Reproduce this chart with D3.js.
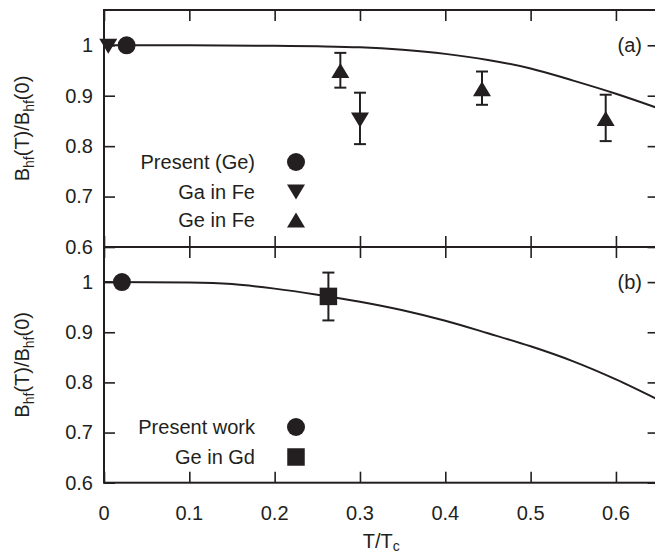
<!DOCTYPE html>
<html>
<head>
<meta charset="utf-8">
<script src="https://cdn.jsdelivr.net/npm/d3@7"></script>
<style>
  html, body { margin: 0; padding: 0; background: #fff; }
  svg { display: block; }
  text { font-family: "Liberation Sans", Arial, Helvetica, sans-serif; fill: #231f20; }
</style>
</head>
<body>
<svg id="chart" width="655" height="555"></svg>
<script>
// ---------- data ----------
const xTicks = [0, 0.1, 0.2, 0.3, 0.4, 0.5, 0.6];
const xTickLabels = ["0", "0.1", "0.2", "0.3", "0.4", "0.5", "0.6"];
const yTicks = [0.6, 0.7, 0.8, 0.9, 1.0];
const yTickLabels = ["0.6", "0.7", "0.8", "0.9", "1"];

// panel (a)
const presentGe = [{x: 0.0265, y: 1.0}];
const gaInFe = [
  {x: 0.005, y: 0.998},
  {x: 0.300, y: 0.852, lo: 0.804, hi: 0.906}
];
const geInFe = [
  {x: 0.277, y: 0.950, lo: 0.916, hi: 0.985},
  {x: 0.443, y: 0.914, lo: 0.882, hi: 0.948},
  {x: 0.588, y: 0.855, lo: 0.810, hi: 0.902}
];
const curveA = [
  [0, 1.0], [0.1, 1.0], [0.2, 0.999], [0.25, 0.998], [0.3, 0.996],
  [0.35, 0.991], [0.4, 0.983], [0.45, 0.971], [0.5, 0.954],
  [0.55, 0.930], [0.6, 0.904], [0.65, 0.875]
];

// panel (b)
const presentWork = [{x: 0.021, y: 1.0}];
const geInGd = [{x: 0.263, y: 0.9715, lo: 0.9236, hi: 1.019}];
const curveB = [
  [0, 1.0], [0.1, 0.999], [0.15, 0.996], [0.2, 0.987], [0.25, 0.975],
  [0.3, 0.961], [0.35, 0.944], [0.4, 0.923], [0.45, 0.898],
  [0.5, 0.872], [0.55, 0.842], [0.6, 0.806], [0.65, 0.765]
];

const legendA = ["Present (Ge)", "Ga in Fe", "Ge in Fe"];
const legendB = ["Present work", "Ge in Gd"];

// ---------- layout ----------
const ink = "#231f20";
const svg = d3.select("#chart");
const left = 104, right = 658.6;
const x = d3.scaleLinear().domain([0, 0.65]).range([left, right]);
const yA = d3.scaleLinear().domain([0.6, 1.07]).range([247, 10]);
const yB = d3.scaleLinear().domain([0.6, 1.07]).range([482.7, 247]);

const fontSize = 20;

// symbol paths
const circlePath = d3.symbol().type(d3.symbolCircle).size(Math.PI * 9 * 9)();
const squarePath = d3.symbol().type(d3.symbolSquare).size(17.5 * 17.5)();
const triW = 18, triH = 15;
const upTri = `M0,${-triH/2}L${triW/2},${triH/2}L${-triW/2},${triH/2}Z`;
const downTri = `M0,${triH/2}L${triW/2},${-triH/2}L${-triW/2},${-triH/2}Z`;

function axisStyle(g) {
  g.select(".domain").remove();
  g.selectAll(".tick line").attr("stroke", ink).attr("stroke-width", 1.6);
  g.selectAll(".tick text").attr("font-size", fontSize).attr("fill", ink);
}

function panel(y, curve, series, label, legend, legendY) {
  const top = y.range()[1], bottom = y.range()[0];
  // axes
  svg.append("g").attr("transform", `translate(0,${bottom})`)
    .call(d3.axisBottom(x).tickValues(xTicks).tickSize(-11).tickFormat(""))
    .call(axisStyle);
  svg.append("g").attr("transform", `translate(0,${top})`)
    .call(d3.axisTop(x).tickValues(xTicks).tickSize(-11).tickFormat(""))
    .call(axisStyle);
  svg.append("g").attr("transform", `translate(${left},0)`)
    .call(d3.axisLeft(y).tickValues(yTicks).tickSize(-11).tickPadding(11)
      .tickFormat((d, i) => yTickLabels[i]))
    .call(axisStyle);
  svg.append("g").attr("transform", `translate(${right},0)`)
    .call(d3.axisRight(y).tickValues(yTicks).tickSize(-11).tickFormat(""))
    .call(axisStyle);
  // frame
  svg.append("rect").attr("x", left).attr("y", top)
    .attr("width", right - left).attr("height", bottom - top)
    .attr("fill", "none").attr("stroke", ink).attr("stroke-width", 2);

  // curve
  const clipId = "clip" + label.replace(/\W/g, "");
  svg.append("clipPath").attr("id", clipId).append("rect")
    .attr("x", left).attr("y", top).attr("width", right - left).attr("height", bottom - top);
  svg.append("path").datum(curve)
    .attr("clip-path", `url(#${clipId})`)
    .attr("fill", "none").attr("stroke", ink).attr("stroke-width", 2)
    .attr("d", d3.line().x(d => x(d[0])).y(d => y(d[1])).curve(d3.curveMonotoneX));

  // series
  series.forEach(s => {
    const g = svg.append("g");
    s.data.filter(d => d.lo !== undefined).forEach(d => {
      const cx = x(d.x);
      g.append("line").attr("x1", cx).attr("x2", cx).attr("y1", y(d.lo)).attr("y2", y(d.hi))
        .attr("stroke", ink).attr("stroke-width", 2);
      [d.lo, d.hi].forEach(v => {
        g.append("line").attr("x1", cx - 6).attr("x2", cx + 6).attr("y1", y(v)).attr("y2", y(v))
          .attr("stroke", ink).attr("stroke-width", 2);
      });
    });
    g.selectAll("path.m").data(s.data).join("path")
      .attr("class", "m")
      .attr("d", s.path).attr("fill", ink)
      .attr("transform", d => `translate(${x(d.x)},${y(d.y)})`);
  });

  // panel label
  svg.append("text").attr("x", 642).attr("y", y(1)).attr("dy", "0.35em")
    .attr("text-anchor", "end").attr("font-size", fontSize).text(label);

  // legend
  legend.forEach((name, i) => {
    const ly = legendY[i];
    svg.append("text").attr("x", 255).attr("y", ly).attr("dy", "0.35em")
      .attr("text-anchor", "end").attr("font-size", fontSize).text(name);
    svg.append("path").attr("d", series[i].path).attr("fill", ink)
      .attr("transform", `translate(296,${ly})`);
  });

  // y label
  const cy = (top + bottom) / 2;
  const t = svg.append("text")
    .attr("transform", `translate(28.5,${cy}) rotate(-90)`)
    .attr("text-anchor", "middle").attr("font-size", fontSize);
  t.append("tspan").text("B");
  t.append("tspan").attr("font-size", 14).attr("dy", 5).text("hf");
  t.append("tspan").attr("dy", -5).text("(T)/B");
  t.append("tspan").attr("font-size", 14).attr("dy", 5).text("hf");
  t.append("tspan").attr("dy", -5).text("(0)");
}

panel(yA, curveA, [
  {data: presentGe, path: circlePath},
  {data: gaInFe, path: downTri},
  {data: geInFe, path: upTri}
], "(a)", legendA, [162, 192, 220]);

panel(yB, curveB, [
  {data: presentWork, path: circlePath},
  {data: geInGd, path: squarePath}
], "(b)", legendB, [427, 457]);

// x tick labels
svg.append("g").selectAll("text").data(xTicks).join("text")
  .attr("x", d => x(d)).attr("y", 520)
  .attr("text-anchor", "middle").attr("font-size", fontSize)
  .text((d, i) => xTickLabels[i]);

// x title
const xt = svg.append("text").attr("x", x(0.325)).attr("y", 548)
  .attr("text-anchor", "middle").attr("font-size", fontSize);
xt.append("tspan").text("T/T");
xt.append("tspan").attr("font-size", 14).attr("dy", 3).text("c");
</script>
</body>
</html>
